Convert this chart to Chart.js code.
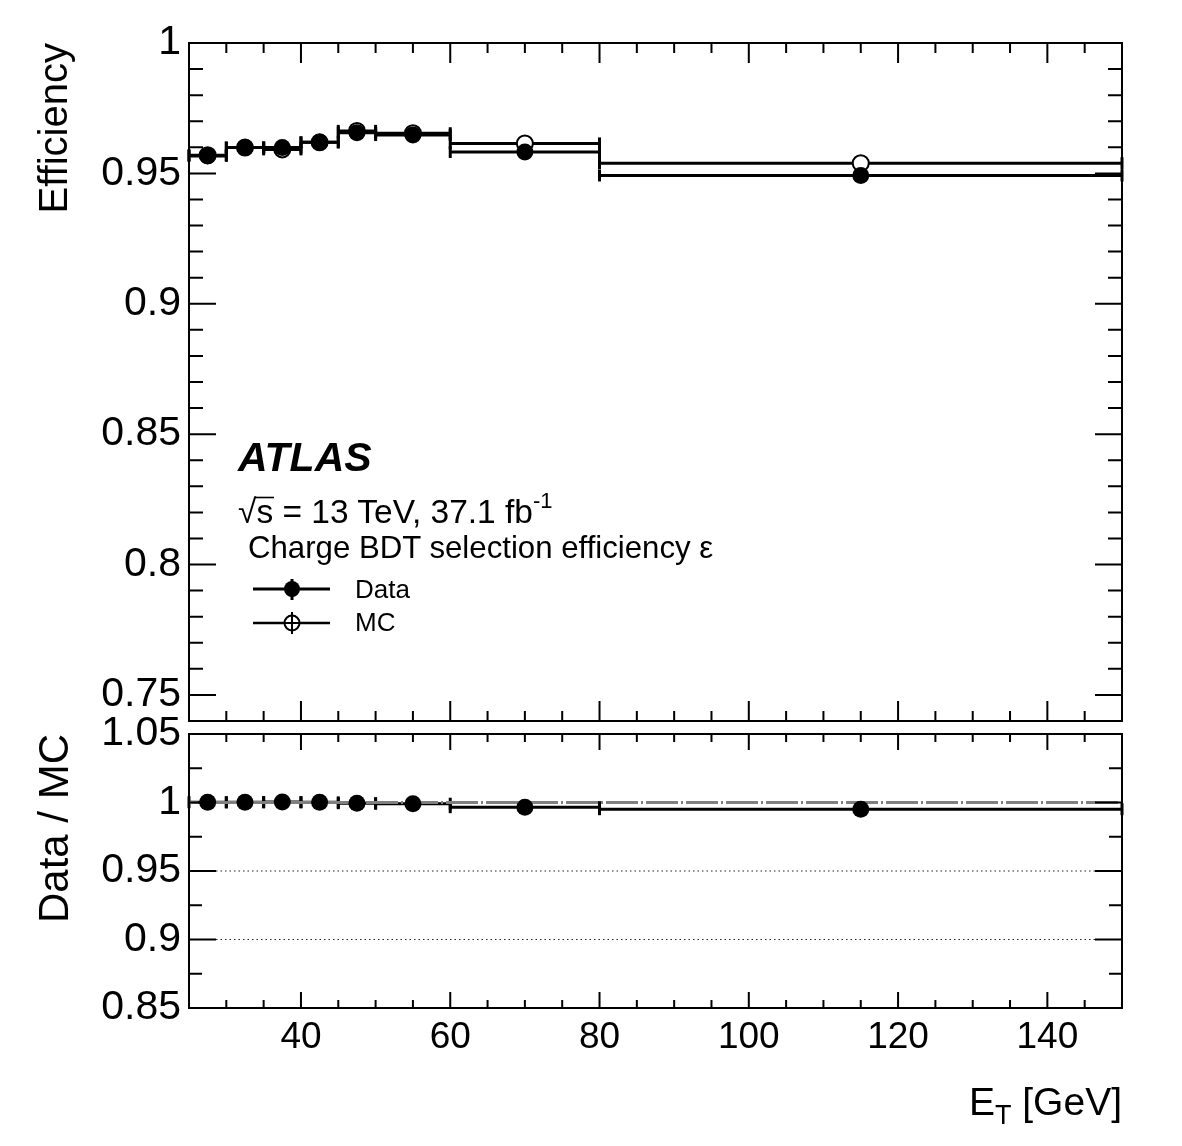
<!DOCTYPE html>
<html>
<head>
<meta charset="utf-8">
<script src="https://cdn.jsdelivr.net/npm/chart.js@4.4.1/dist/chart.umd.min.js"></script>
<style>
html,body{margin:0;padding:0;background:#fff;}
#wrap{position:relative;width:1182px;height:1146px;overflow:hidden;background:#fff;}
canvas{position:absolute;left:0;}
#cTop{top:0;}
#cBot{top:700px;}
svg{position:absolute;left:0;top:0;pointer-events:none;}
</style>
</head>
<body>
<div id="wrap">
<canvas id="cBot" width="1182" height="446"></canvas>
<canvas id="cTop" width="1182" height="760"></canvas>
<svg width="1182" height="1146" xmlns="http://www.w3.org/2000/svg">
 <g font-family="Liberation Sans, Arial, Helvetica, sans-serif" fill="#000">
  <text x="238" y="471" font-size="41" font-weight="bold" font-style="italic">ATLAS</text>
  <text x="238" y="523" font-size="33.5">√s = 13 TeV, 37.1 fb<tspan font-size="22" dy="-15">-1</tspan></text>
  <line x1="255" y1="497.5" x2="274" y2="497.5" stroke="#000" stroke-width="1.6"/>
  <text x="248" y="558" font-size="31.2">Charge BDT selection efficiency ε</text>
  <text x="355" y="598" font-size="26">Data</text>
  <text x="355" y="631" font-size="26">MC</text>
  <text x="1122" y="1115" font-size="39" text-anchor="end">E<tspan font-size="27" dy="9">T</tspan><tspan dy="-9"> [GeV]</tspan></text>
 </g>
</svg>
</div>
<script>
// ---------------- data ----------------
const binLow    = [25, 30, 35, 40, 45, 50, 60, 80];
const binHigh   = [30, 35, 40, 45, 50, 60, 80, 150];
const binCenter = [27.5, 32.5, 37.5, 42.5, 47.5, 55, 70, 115];
const effData   = [0.9567, 0.9599, 0.9599, 0.9619, 0.9656, 0.9647, 0.9582, 0.9492];
const effMC     = [0.9570, 0.9599, 0.9592, 0.9619, 0.9663, 0.9654, 0.9615, 0.9539];
const ratioDataMC = [1.0002, 1.0001, 1.0003, 1.0001, 0.9995, 0.9991, 0.9966, 0.9951];

const xTickLabels     = [40, 60, 80, 100, 120, 140];
const effTickLabels   = [0.75, 0.8, 0.85, 0.9, 0.95, 1];
const ratioTickLabels = [0.85, 0.9, 0.95, 1, 1.05];
const ratioUnityLine  = [1];
const ratioDottedLines = [0.95, 0.9];

const xRange = [25, 150];
const effRange = [0.74, 1.0];
const ratioRange = [0.85, 1.05];

// ---------------- helpers ----------------
function steps(a, b, s) { const r = []; for (let v = a; v <= b + 1e-9; v += s) r.push(+v.toFixed(4)); return r; }
function barPoints(vals) {
  const pts = [];
  vals.forEach((v, i) => { pts.push({x: binLow[i], y: v}, {x: binHigh[i], y: v}, {x: binHigh[i], y: null}); });
  return pts;
}
function markerPoints(vals) { return binCenter.map((x, i) => ({x: x, y: vals[i]})); }
function hLine(v) { return [{x: xRange[0], y: v}, {x: xRange[1], y: v}]; }
const fmt = v => String(+(+v).toFixed(3));

Chart.defaults.font.family = "'Liberation Sans', Arial, Helvetica, sans-serif";
Chart.defaults.color = '#000';

const frameTicks = {
  id: 'frameTicks',
  afterDraw(chart, args, o) {
    const {ctx, chartArea: a} = chart;
    const x = chart.scales.x, y = chart.scales.y;
    ctx.save();
    ctx.strokeStyle = '#000';
    ctx.lineWidth = 2;
    ctx.beginPath();
    const tx = (vals, len) => vals.forEach(v => {
      const p = x.getPixelForValue(v);
      ctx.moveTo(p, a.bottom); ctx.lineTo(p, a.bottom - len);
      ctx.moveTo(p, a.top); ctx.lineTo(p, a.top + len);
    });
    const ty = (vals, len) => vals.forEach(v => {
      const p = y.getPixelForValue(v);
      ctx.moveTo(a.left, p); ctx.lineTo(a.left + len, p);
      ctx.moveTo(a.right, p); ctx.lineTo(a.right - len, p);
    });
    tx(o.xMinor, o.xMinLen); tx(o.xMajor, o.xMajLen);
    ty(o.yMinor, o.yMinLen); ty(o.yMajor, o.yMajLen);
    ctx.stroke();
    ctx.strokeRect(a.left, a.top, a.right - a.left, a.bottom - a.top);
    ctx.restore();
  }
};

const legendSymbols = {
  id: 'legendSymbols',
  afterDraw(chart) {
    const ctx = chart.ctx;
    ctx.save();
    ctx.strokeStyle = '#000'; ctx.fillStyle = '#000';
    // Data
    ctx.lineWidth = 3;
    ctx.beginPath(); ctx.moveTo(253, 589); ctx.lineTo(330, 589); ctx.stroke();
    ctx.beginPath(); ctx.moveTo(292, 579); ctx.lineTo(292, 600); ctx.stroke();
    ctx.beginPath(); ctx.arc(292, 589, 8, 0, Math.PI * 2); ctx.fill();
    // MC
    ctx.lineWidth = 2.5;
    ctx.beginPath(); ctx.moveTo(253, 623); ctx.lineTo(330, 623); ctx.stroke();
    ctx.beginPath(); ctx.arc(292, 623, 7.5, 0, Math.PI * 2);
    ctx.fillStyle = '#fff'; ctx.fill(); ctx.lineWidth = 2; ctx.stroke();
    ctx.beginPath(); ctx.moveTo(284, 623); ctx.lineTo(300, 623); ctx.moveTo(292, 612); ctx.lineTo(292, 634); ctx.stroke();
    ctx.restore();
  }
};

const yTickFont = {size: 41};
const xTickFont = {size: 37};
const barStyle = {
  type: 'line', showLine: true, borderColor: '#000', borderWidth: 3, spanGaps: false,
  pointStyle: 'line', pointRotation: 90, pointRadius: 6, pointHoverRadius: 6,
  pointBorderWidth: 3, pointBorderColor: '#000', clip: false
};

// ---------------- top panel ----------------
new Chart(document.getElementById('cTop'), {
  type: 'line',
  data: {
    datasets: [
      {label: 'Data', data: markerPoints(effData), showLine: false, pointRadius: 8.5, pointBackgroundColor: '#000', pointBorderColor: '#000', pointBorderWidth: 0, order: 0, clip: false},
      {label: 'MC', data: markerPoints(effMC), showLine: false, pointRadius: 8, pointBackgroundColor: '#fff', pointBorderColor: '#000', pointBorderWidth: 2, order: 1, clip: false},
      Object.assign({label: 'Data bins', data: barPoints(effData), order: 2}, barStyle),
      Object.assign({label: 'MC bins', data: barPoints(effMC), order: 3}, barStyle)
    ]
  },
  options: {
    responsive: false, devicePixelRatio: 1, animation: false, events: [],
    layout: {padding: {left: 0, top: 43, right: 60, bottom: 39}},
    plugins: {
      legend: {display: false}, tooltip: {enabled: false},
      frameTicks: {xMajor: xTickLabels, xMinor: steps(25, 150, 5), xMajLen: 20, xMinLen: 10,
                   yMajor: effTickLabels, yMinor: steps(0.74, 1.0, 0.01), yMajLen: 27, yMinLen: 14}
    },
    scales: {
      x: {type: 'linear', display: false, min: xRange[0], max: xRange[1]},
      y: {
        type: 'linear', min: effRange[0], max: effRange[1],
        grid: {display: false, drawTicks: false}, border: {display: false},
        afterBuildTicks: s => { s.ticks = effTickLabels.map(v => ({value: v})); },
        afterFit: s => { s.width = 189; },
        ticks: {font: yTickFont, color: '#000', padding: 8, callback: fmt},
        title: {display: true, text: 'Efficiency', align: 'end', font: {size: 40}, color: '#000', padding: {top: 32, bottom: 0}}
      }
    }
  },
  plugins: [frameTicks, legendSymbols]
});

// ---------------- ratio panel ----------------
new Chart(document.getElementById('cBot'), {
  type: 'line',
  data: {
    datasets: [
      {label: 'Data / MC', data: markerPoints(ratioDataMC), showLine: false, pointRadius: 8.5, pointBackgroundColor: '#000', pointBorderColor: '#000', pointBorderWidth: 0, order: 0, clip: false},
      ...ratioUnityLine.map(v => ({label: 'unity', data: hLine(v), borderColor: '#808080', borderWidth: 3, borderDash: [32, 3, 2, 3], borderDashOffset: 23, pointRadius: 0, order: 1})),
      Object.assign({label: 'Ratio bins', data: barPoints(ratioDataMC), order: 2}, barStyle),
      ...ratioDottedLines.map(v => ({label: 'ref', data: hLine(v), borderColor: '#222', borderWidth: 1, borderDash: [1.5, 3], pointRadius: 0, order: 4}))
    ]
  },
  options: {
    responsive: false, devicePixelRatio: 1, animation: false, events: [],
    layout: {padding: {left: 0, top: 34, right: 60, bottom: 78}},
    plugins: {
      legend: {display: false}, tooltip: {enabled: false},
      frameTicks: {xMajor: xTickLabels, xMinor: steps(25, 150, 5), xMajLen: 16, xMinLen: 8,
                   yMajor: ratioTickLabels, yMinor: steps(0.85, 1.05, 0.025), yMajLen: 27, yMinLen: 13}
    },
    scales: {
      x: {
        type: 'linear', min: xRange[0], max: xRange[1],
        grid: {display: false, drawTicks: false}, border: {display: false},
        afterBuildTicks: s => { s.ticks = xTickLabels.map(v => ({value: v})); },
        afterFit: s => { s.height = 60; },
        ticks: {font: xTickFont, color: '#000', padding: 8, maxRotation: 0, callback: fmt}
      },
      y: {
        type: 'linear', min: ratioRange[0], max: ratioRange[1],
        grid: {display: false, drawTicks: false}, border: {display: false},
        afterBuildTicks: s => { s.ticks = ratioTickLabels.map(v => ({value: v})); },
        afterFit: s => { s.width = 189; },
        ticks: {font: yTickFont, color: '#000', padding: 8, callback: fmt},
        title: {display: true, text: 'Data / MC', align: 'end', font: {size: 42}, color: '#000', padding: {top: 31, bottom: 0}}
      }
    }
  },
  plugins: [frameTicks]
});
</script>
</body>
</html>
